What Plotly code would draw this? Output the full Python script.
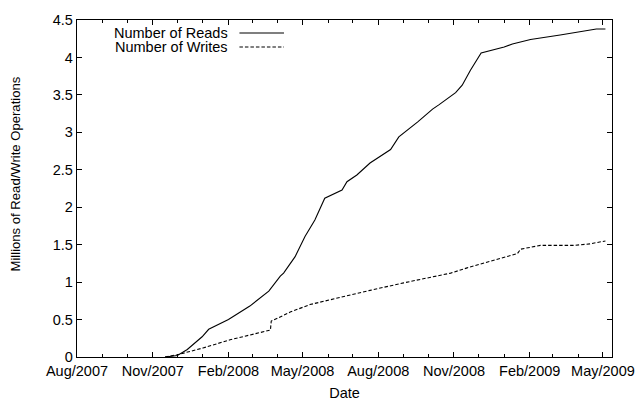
import plotly.graph_objects as go

read_dates = ["2007-11-16", "2007-12-01", "2007-12-13", "2007-12-23", "2007-12-31", "2008-01-08",
              "2008-02-01", "2008-02-27", "2008-03-21", "2008-04-04", "2008-04-08", "2008-04-22",
              "2008-05-04", "2008-05-16", "2008-05-22", "2008-05-28", "2008-06-18", "2008-06-24",
              "2008-07-06", "2008-07-22", "2008-08-16", "2008-08-26", "2008-09-18", "2008-10-06",
              "2008-10-14", "2008-11-03", "2008-11-11", "2008-11-21", "2008-12-04", "2009-01-01",
              "2009-01-11", "2009-02-02", "2009-03-10", "2009-04-23", "2009-05-04"]
read_values = [0.0, 0.02, 0.10, 0.19, 0.27, 0.37,
               0.50, 0.68, 0.88, 1.08, 1.12, 1.34,
               1.61, 1.83, 1.97, 2.12, 2.23, 2.34,
               2.43, 2.59, 2.77, 2.94, 3.14, 3.31,
               3.37, 3.53, 3.63, 3.83, 4.06, 4.14,
               4.18, 4.24, 4.30, 4.38, 4.38]

write_dates = ["2007-11-16", "2007-12-01", "2008-01-01", "2008-02-03", "2008-03-23", "2008-03-24",
               "2008-04-01", "2008-04-16", "2008-05-10", "2008-06-12", "2008-07-22", "2008-09-01",
               "2008-10-03", "2008-10-28", "2008-11-17", "2008-12-19", "2009-01-17", "2009-01-21",
               "2009-02-14", "2009-03-26", "2009-04-15", "2009-05-04"]
write_values = [0.0, 0.03, 0.12, 0.23, 0.36, 0.48,
                0.52, 0.60, 0.70, 0.79, 0.89, 0.99,
                1.06, 1.12, 1.19, 1.29, 1.38, 1.44,
                1.49, 1.49, 1.51, 1.55]

x_tick_dates = ["2007-08-01", "2007-11-01", "2008-02-01", "2008-05-01",
                "2008-08-01", "2008-11-01", "2009-02-01", "2009-05-01"]
x_tick_labels = ["Aug/2007", "Nov/2007", "Feb/2008", "May/2008",
                 "Aug/2008", "Nov/2008", "Feb/2009", "May/2009"]
y_tick_values = [0, 0.5, 1, 1.5, 2, 2.5, 3, 3.5, 4, 4.5]
y_tick_labels = ["0", "0.5", "1", "1.5", "2", "2.5", "3", "3.5", "4", "4.5"]

series_names = ["Number of Reads", "Number of Writes"]
x_title = "Date"
y_title = "Millions of Read/Write Operations"

FONT = "Liberation Sans, Arial, sans-serif"
FS = 14.5
WRITE_DASH = "3.5px,2px"

fig = go.Figure()
fig.add_trace(go.Scatter(x=read_dates, y=read_values, mode="lines", name=series_names[0],
                         line=dict(color="black", width=1.1), showlegend=False))
fig.add_trace(go.Scatter(x=write_dates, y=write_values, mode="lines", name=series_names[1],
                         line=dict(color="black", width=1.1, dash=WRITE_DASH), showlegend=False))

# gnuplot-style key: text then line sample to the right
key_y = [0.9615, 0.92]
dashes = ["solid", WRITE_DASH]
for name, ky, ds in zip(series_names, key_y, dashes):
    fig.add_annotation(x=0.2866, y=ky, xref="paper", yref="paper", text=name, showarrow=False,
                       xanchor="right", yanchor="middle", font=dict(family=FONT, size=FS, color="black"))
    fig.add_shape(type="line", xref="paper", yref="paper", x0=0.3036, x1=0.3869, y0=ky, y1=ky,
                  line=dict(color="black", width=1.1, dash=ds))

# y-axis title (gnuplot places it slightly above the axis centre)
fig.add_annotation(x=-0.115, y=0.543, xref="paper", yref="paper", text=y_title, showarrow=False,
                   textangle=-90, xanchor="center", yanchor="middle",
                   font=dict(family=FONT, size=13.1, color="black"))

axis_common = dict(showline=True, linecolor="black", linewidth=1.3, mirror="allticks",
                   ticks="inside", tickcolor="black", tickwidth=1, ticklen=5,
                   showgrid=False, zeroline=False,
                   tickfont=dict(family=FONT, size=FS, color="black"))

fig.update_xaxes(type="date", range=["2007-08-01", "2009-05-12"],
                 tickvals=x_tick_dates, ticktext=x_tick_labels,
                 minor=dict(ticks="inside", dtick="M1", tick0="2007-08-01", ticklen=3,
                            tickcolor="black", tickwidth=1, showgrid=False),
                 title=dict(text=x_title, font=dict(family=FONT, size=FS, color="black"), standoff=13),
                 **axis_common)
fig.update_yaxes(range=[0, 4.5], tickvals=y_tick_values, ticktext=y_tick_labels, **axis_common)

fig.update_layout(width=637, height=401, margin=dict(l=77, r=25, t=20, b=44, autoexpand=False),
                  plot_bgcolor="white", paper_bgcolor="white",
                  font=dict(family=FONT, size=FS, color="black"))

# remove the browser's default 8px body margin so the figure fills the window exactly
fig.write_html("out.html", config={"displayModeBar": False},
               post_script="document.body.style.margin='0';document.body.style.overflow='hidden';")
